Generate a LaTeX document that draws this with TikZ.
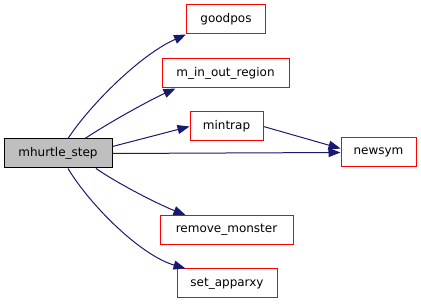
\documentclass[tikz,border=0pt]{standalone}
\usepackage{fontspec}
\setmainfont{DejaVu Sans}
\usetikzlibrary{arrows.meta}
\definecolor{edgeblue}{HTML}{191970}
\begin{document}
\begin{tikzpicture}[x=1pt,y=-1pt,
  fn/.style={draw=red,fill=white,line width=1pt,inner sep=0pt,minimum height=29pt,font=\fontsize{12}{14}\selectfont},
  root/.style={draw=black,fill=black!25,line width=1pt,inner sep=0pt,minimum height=29pt,font=\fontsize{12}{14}\selectfont},
  edge/.style={draw=edgeblue,line width=1pt,-{Triangle[length=12pt,width=9pt]}}]
\useasboundingbox (0,0) rectangle (421,304);
\node[root,minimum width=108pt] (ms) at (58,153.5) {mhurtle\_step};
\node[fn,minimum width=79pt] (gp) at (226,19.5) {goodpos};
\node[fn,minimum width=127pt] (mi) at (225.5,73.5) {m\_in\_out\_region};
\node[fn,minimum width=73pt] (mt) at (226.5,126.5) {mintrap};
\node[fn,minimum width=75pt] (ns) at (378.5,152.5) {newsym};
\node[fn,minimum width=133pt] (rm) at (226.5,230) {remove\_monster};
\node[fn,minimum width=100pt] (sa) at (227,283.5) {set\_apparxy};
\draw[edge] (ms.north) ++(10,0) .. controls (90,105) and (140,55) .. (gp.south west);
\draw[edge] (ms.north) ++(27,0) .. controls (110,122) and (150,100) .. ([xshift=14pt]mi.south west);
\draw[edge] ([yshift=7pt]ms.east) -- (mt.west);
\draw[edge] (ms.east) -- (ns.west);
\draw[edge] (mt.east) -- ([yshift=4pt]ns.west);
\draw[edge] (ms.south) ++(38,0) .. controls (120,185) and (160,205) .. ([xshift=26pt]rm.north west);
\draw[edge] (ms.south) ++(10,0) .. controls (90,205) and (140,255) .. ([xshift=9pt]sa.north west);
\end{tikzpicture}
\end{document}
